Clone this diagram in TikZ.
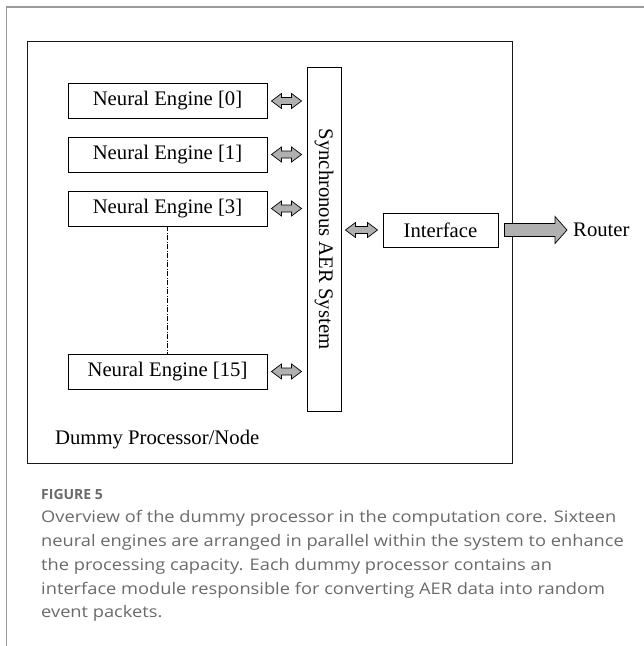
\documentclass[tikz,border=0pt]{standalone}
\usepackage{fontspec}
\setmainfont{Liberation Serif}
\newfontfamily\capfont{Open Sans}
\usetikzlibrary{calc}
\definecolor{arrgray}{HTML}{B0B0B0}
\definecolor{capgray}{HTML}{6A6A6A}
\definecolor{framegray}{HTML}{9A9A9A}
\newcommand\capsize{\capfont\fontsize{16}{24}\selectfont}
\newlength\capwidth
\tikzset{
  unitbox/.style={draw=black, line width=0.9pt, minimum width=199pt, minimum height=35pt, inner sep=0pt,
    font=\fontsize{20.7}{24}\selectfont},
  blockarrow/.style={draw=black, line width=0.7pt, fill=arrgray, line join=miter},
  serif/.style={inner sep=0pt, font=\fontsize{20.7}{24}\selectfont},
  captext/.style={inner sep=0pt, anchor=base west, text=capgray, font=\capsize},
}
\newcommand\dblarrow[2]{%
  \draw[blockarrow] let \p1=($(#1)+(4,0)$), \p2=($(#2)+(-5,0)$) in
    (\x1,\y1) -- (\x1+10pt,\y1+7.5pt) -- (\x1+10pt,\y1+3.5pt) -- (\x2-10pt,\y1+3.5pt) --
    (\x2-10pt,\y1+7.5pt) -- (\x2,\y1) -- (\x2-10pt,\y1-7.5pt) -- (\x2-10pt,\y1-3.5pt) --
    (\x1+10pt,\y1-3.5pt) -- (\x1+10pt,\y1-7.5pt) -- cycle;}
\begin{document}
\settowidth\capwidth{\capsize Overview of the dummy processor in the computation core. Sixteen}%
\pgfmathsetmacro\capscale{575/\capwidth}%
\begin{tikzpicture}[x=1pt,y=-1pt]
\useasboundingbox (0,0) rectangle (644,646);
% outer frame
\draw[framegray, line width=1.4pt] (6.5,646) -- (6.5,7) -- (644,7);
% main box
\node[draw=black!90, line width=1.2pt, minimum width=485pt, minimum height=422pt, inner sep=0pt, anchor=north west] (main) at (27,41) {};
% neural engines
\node[unitbox] (ne0) at (167.5,101) {Neural Engine [0]};
\node[unitbox] (ne1) at (167.5,154.5) {Neural Engine [1]};
\node[unitbox] (ne3) at (167.5,208.5) {Neural Engine [3]};
\node[unitbox] (ne15) at (167.5,371.5) {Neural Engine [15]};
% sync box
\node[draw=black, line width=0.9pt, minimum width=34pt, minimum height=344pt, inner sep=0pt] (sync) at (324,239) {};
\node[serif, rotate=-90] (synctext) at (sync.center) {Synchronous AER System};
% interface
\node[unitbox, minimum width=115pt, minimum height=34pt] (iface) at (440.5,230) {Interface};
\node[serif, anchor=west] (router) at (573,230) {Router};
\node[serif, anchor=west] (dummy) at (55,440) {Dummy Processor/Node};
% dash-dot
\draw[line width=0.7pt, dash pattern=on 5pt off 1.5pt on 1pt off 1.5pt] (ne3.south) -- (ne15.north);
% arrows
\dblarrow{ne0.east}{sync.west |- ne0.east}
\dblarrow{ne1.east}{sync.west |- ne1.east}
\dblarrow{ne3.east}{sync.west |- ne3.east}
\dblarrow{ne15.east}{sync.west |- ne15.east}
\dblarrow{sync.east |- iface.west}{iface.west}
\draw[blockarrow] let \p1=($(iface.east)+(6,0)$), \p2=($(router.west)+(-6,0)$) in
  (\x1,\y1+6.5pt) -- (\x2-12pt,\y1+6.5pt) -- (\x2-12pt,\y1+13.5pt) -- (\x2,\y1) --
  (\x2-12pt,\y1-13.5pt) -- (\x2-12pt,\y1-6.5pt) -- (\x1,\y1-6.5pt) -- cycle;
% caption
\node[captext, font=\capfont\bfseries\fontsize{14}{16}\selectfont] (fig) at (41,499) {FIGURE 5};
\begin{scope}[shift={(41,0)}, xscale=\capscale, transform shape]
\node[captext] (c1) at (0,522) {Overview of the dummy processor in the computation core. Sixteen};
\node[captext] (c2) at (0,546) {neural engines are arranged in parallel within the system to enhance};
\node[captext] (c3) at (0,570) {the processing capacity. Each dummy processor contains an};
\node[captext] (c4) at (0,594) {interface module responsible for converting AER data into random};
\node[captext] (c5) at (0,617.5) {event packets.};
\end{scope}
\end{tikzpicture}
\end{document}
